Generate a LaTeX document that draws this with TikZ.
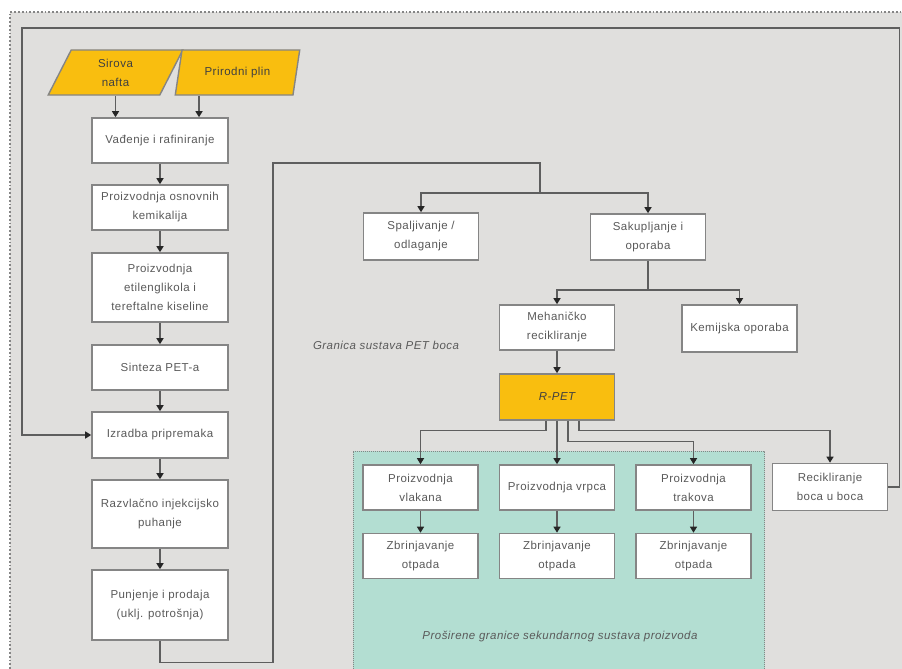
\documentclass[tikz,border=0pt]{standalone}
\usepackage{fontspec}
\setmainfont{Liberation Sans}[LetterSpace=4.0]
\usepackage{xcolor}
\usetikzlibrary{shapes.geometric, arrows.meta, positioning, calc, backgrounds}

\definecolor{pozadina}{HTML}{E0DFDD}
\definecolor{zuta}{HTML}{F9BE0F}
\definecolor{tirkiz}{HTML}{B3DED2}
\definecolor{rub}{HTML}{858585}
\definecolor{crta}{HTML}{5E5E5E}
\definecolor{tekst}{HTML}{5A5A5A}

\newcommand{\slovaboks}{\fontsize{11.5pt}{19pt}\selectfont}

\tikzset{
  korak/.style={rectangle, draw=rub, fill=white, line width=1.6pt, minimum width=136pt,
    minimum height=45pt, align=center, text=tekst, inner sep=2pt, font=\slovaboks},
  manji/.style={minimum width=115pt},
  ulaz/.style={trapezium, trapezium left angle=72, trapezium right angle=108,
    trapezium stretches=true, draw=rub, fill=zuta, line width=1.4pt, minimum height=45pt,
    align=center, text=black!75, inner sep=1pt, font=\slovaboks},
  oznaka/.style={font=\slovaboks\itshape, text=tekst},
  spoj/.style={draw=crta, line width=1.3pt},
  veza/.style={spoj, -{Triangle[length=6pt,width=7pt,color=black!85]}},
}

\begin{document}
\begin{tikzpicture}[x=1pt, y=-1pt]
    \useasboundingbox (0,0) rectangle (902,669);
    % Pozadina i okvir
    \fill[pozadina] (10,12) rectangle (902,669);
    \draw[rub, dotted, line width=1.8pt] (10,669) -- (10,12) -- (902,12);
    % Prosirene granice
    \fill[tirkiz] (353,451) rectangle (765,669);
    \draw[rub, densely dotted, line width=1pt] (353,669) -- (353,451) -- (764,451) -- (764,669);

    % Sirovine
    \node[ulaz, minimum width=135pt] (nafta) at (115.5,72.5) {Sirova\\nafta};
    \node[ulaz, minimum width=125pt] (plin) at (237.5,72.5) {Prirodni plin};

    % Proizvodnja boca
    \node[korak] (vad) at (160,140.5) {Vađenje i rafiniranje};
    \node[korak] (osn) at (160,207.5) {Proizvodnja osnovnih\\kemikalija};
    \node[korak, minimum height=69pt] (etil) at (160,287.5) {Proizvodnja\\etilenglikola i\\tereftalne kiseline};
    \node[korak] (sint) at (160,367.5) {Sinteza PET-a};
    \node[korak, minimum height=46pt] (izr) at (160,435) {Izradba pripremaka};
    \node[korak, minimum height=68pt] (razv) at (160,514) {Razvlačno injekcijsko\\puhanje};
    \node[korak, minimum height=70pt] (pun) at (160,605) {Punjenje i prodaja\\(uklj. potrošnja)};

    % Kraj zivotnog vijeka
    \node[korak, manji, minimum height=47pt] (spal) at (421,236.5) {Spaljivanje /\\odlaganje};
    \node[korak, manji, minimum height=46pt] (sak) at (648,237) {Sakupljanje i\\oporaba};
    \node[korak, manji] (meh) at (557,327.5) {Mehaničko\\recikliranje};
    \node[korak, manji, minimum height=47pt] (kem) at (739.5,328.5) {Kemijska oporaba};
    \node[korak, manji, minimum height=46pt, fill=zuta, text=black!75, font=\slovaboks\itshape] (rpet) at (557,397) {R-PET};

    % Sekundarni proizvodi
    \node[korak, manji] (vlak) at (420.5,487.5) {Proizvodnja\\vlakana};
    \node[korak, manji] (vrp) at (557,487.5) {Proizvodnja vrpca};
    \node[korak, manji] (trak) at (693.5,487.5) {Proizvodnja\\trakova};
    \node[korak, manji] (zbr1) at (420.5,556) {Zbrinjavanje\\otpada};
    \node[korak, manji] (zbr2) at (557,556) {Zbrinjavanje\\otpada};
    \node[korak, manji] (zbr3) at (693.5,556) {Zbrinjavanje\\otpada};
    \node[korak, manji, minimum height=47pt] (recik) at (830,487) {Recikliranje\\boca u boca};

    \node[oznaka] (grpet) at (386,345) {Granica sustava PET boca};
    \node[oznaka] (grsek) at (560,636) {Proširene granice sekundarnog sustava proizvoda};

    % Veze
    \draw[veza] (nafta.south) -- (nafta.south |- vad.north);
    \draw[veza] ([xshift=-38.5pt]plin.south) -- ([xshift=-38.5pt]plin.south |- vad.north);
    \foreach \a/\b in {vad/osn, osn/etil, etil/sint, sint/izr, izr/razv, razv/pun}
        \draw[veza] (\a) -- (\b);

    \coordinate (okret) at (273,163);
    \coordinate (razd) at (540,193);
    \draw[spoj] (pun.south) -- ++(0,22) -| (okret) -| (razd);
    \draw[veza] (razd) -| (spal.north);
    \draw[veza] (razd) -| (sak.north);

    \coordinate (razd2) at (648,290);
    \draw[spoj] (sak.south) -- (razd2);
    \draw[veza] (razd2) -| (meh.north);
    \draw[veza] (razd2) -| (kem.north);
    \draw[veza] (meh) -- (rpet);

    \draw[veza] ([xshift=-11pt]rpet.south) -- ++(0,10) -| (vlak.north);
    \draw[veza] (rpet) -- (vrp);
    \draw[veza] ([xshift=11pt]rpet.south) -- ++(0,21) -| (trak.north);
    \draw[veza] ([xshift=22pt]rpet.south) -- ++(0,10) -| (recik.north);

    \draw[veza] (vlak) -- (zbr1);
    \draw[veza] (vrp) -- (zbr2);
    \draw[veza] (trak) -- (zbr3);

    \draw[veza] (recik.east) -- ++(11,0) |- (22,28) |- (izr.west);
\end{tikzpicture}
\end{document}
